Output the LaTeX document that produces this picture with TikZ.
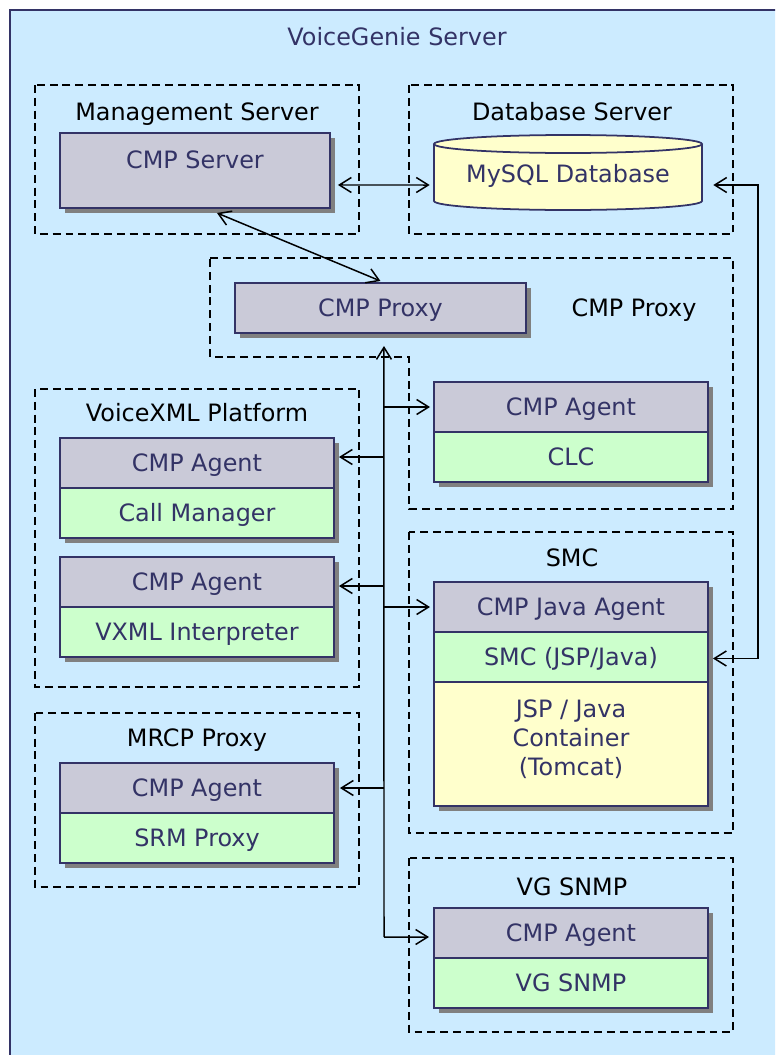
\documentclass[tikz,border=0pt]{standalone}
\usepackage{fontspec}
\setmainfont{DejaVu Sans}
\usepackage{tikz}
\usetikzlibrary{calc,positioning,shadows,arrows.meta}
\definecolor{vgblue}{RGB}{204,235,255}
\definecolor{vgnavy}{RGB}{51,51,102}
\definecolor{vggray}{RGB}{202,202,216}
\definecolor{vggreen}{RGB}{204,255,204}
\definecolor{vgyellow}{RGB}{255,255,204}
\definecolor{vgshadow}{RGB}{128,128,128}
\tikzset{
  every node/.style={font=\fontsize{13.6}{16.5}\selectfont},
  boxtext/.style={text=vgnavy, text height=13.3pt, text depth=3.4pt, inner sep=0pt},
  grouplabel/.style={text=black, text height=13.3pt, text depth=3.4pt, inner sep=0pt},
  unit/.style={draw=vgnavy, line width=1pt, outer sep=0pt, inner sep=0pt,
    minimum width=5.48cm, minimum height=1cm, boxtext,
    drop shadow={shadow xshift=0.1cm, shadow yshift=-0.1cm, opacity=1, fill=vgshadow}},
  agent/.style={unit, fill=vggray},
  service/.style={unit, fill=vggreen},
  group/.style={draw=black, line width=0.7pt, dash pattern=on 4.5pt off 2.8pt},
  link/.style={draw=black, line width=0.85pt}
}
\begin{document}
\begin{tikzpicture}[x=0.02cm, y=-0.02cm, >={Straight Barb[length=2.4mm,width=3mm]}]
  \useasboundingbox (0,0) rectangle (775,1055);
  \clip (0,0) rectangle (775,1055);
  \draw[fill=vgblue, draw=vgnavy, line width=1pt] (10,10) rectangle (790,1070);
  \node[boxtext] (title) at (397,37) {VoiceGenie Server};

  % groups
  \draw[group] (35,85) rectangle (359,234);
  \node[grouplabel] (mgmt) at (197,112) {Management Server};
  \draw[group] (409,85) rectangle (733,234);
  \node[grouplabel] (dbsrv) at (572,112) {Database Server};
  \draw[group] (210,258) -- (733,258) -- (733,509) -- (409,509) -- (409,357) -- (210,357) -- cycle;
  \node[grouplabel] (proxygrp) at (634,308) {CMP Proxy};
  \draw[group] (35,389) rectangle (359,687);
  \node[grouplabel] (vxmlgrp) at (197,413) {VoiceXML Platform};
  \draw[group] (35,713) rectangle (359,887);
  \node[grouplabel] (mrcpgrp) at (197,738) {MRCP Proxy};
  \draw[group] (409,532) rectangle (733,833);
  \node[grouplabel] (smcgrp) at (572,558) {SMC};
  \draw[group] (409,858) rectangle (733,1032);
  \node[grouplabel] (snmpgrp) at (572,887) {VG SNMP};

  % servers
  \node[agent, minimum width=5.4cm, minimum height=1.5cm, anchor=north west] (cmpserver) at (60,133) {};
  \node[boxtext] (cmpserverlbl) at ([yshift=-0.54cm]cmpserver.north) {CMP Server};
  \filldraw[fill=vgyellow, draw=vgnavy, line width=1pt] (568,201) ellipse [x radius=134, y radius=9];
  \fill[vgyellow] (434,144) rectangle (702,201);
  \draw[vgnavy, line width=1pt] (434,144) -- (434,201) (702,144) -- (702,201);
  \filldraw[fill=vgyellow, draw=vgnavy, line width=1pt] (568,144) ellipse [x radius=134, y radius=9];
  \node[boxtext, minimum width=5.36cm, minimum height=1.5cm] (mysql) at (568,174) {MySQL Database};
  \node[agent, minimum width=5.82cm, anchor=north west] (cmpproxy) at (235,283) {CMP Proxy};

  % agents
  \node[agent, anchor=north west] (clcagent) at (434,382) {CMP Agent};
  \node[service, below=0pt of clcagent] (clc) {CLC};
  \node[agent, anchor=north west] (cmagent) at (60,438) {CMP Agent};
  \node[service, below=0pt of cmagent] (callmgr) {Call Manager};
  \node[agent, anchor=north west] (vxmlagent) at (60,557) {CMP Agent};
  \node[service, below=0pt of vxmlagent] (vxml) {VXML Interpreter};
  \node[agent, anchor=north west] (mrcpagent) at (60,763) {CMP Agent};
  \node[service, below=0pt of mrcpagent] (srm) {SRM Proxy};
  \node[agent, anchor=north west] (smcagent) at (434,582) {CMP Java Agent};
  \node[service, below=0pt of smcagent] (smcweb) {SMC (JSP/Java)};
  \node[unit, fill=vgyellow, minimum height=2.48cm, below=0pt of smcweb] (tomcat) {};
  \node[text=vgnavy, align=center, inner sep=0pt, anchor=north] (tomcatlbl) at ([yshift=-0.34cm]tomcat.north) {JSP / Java\\Container\\(Tomcat)};
  \node[agent, anchor=north west] (snmpagent) at (434,908) {CMP Agent};
  \node[service, below=0pt of snmpagent] (snmp) {VG SNMP};

  % links
  \coordinate (dbbend) at (758,185);
  \coordinate (busbot) at (384,937);
  \draw[link, <->] ($(cmpserver.east)+(8,14.5)$) -- ($(mysql.west)+(-4,11)$);
  \draw[link, <->] ($(mysql.east)+(11,11)$) -- (dbbend) |- ($(smcweb.east)+(5,1.5)$);
  \draw[link, <->] ($(cmpserver.south)+(22,5)$) -- ($(cmpproxy.north)+(0,-2)$);
  \draw[link, ->] (busbot) -- ($(cmpproxy.south)+(3.5,13)$);
  \draw[link, ->] (busbot) -- ($(snmpagent.west)+(-5,4)$);
  \draw[link, ->] (clcagent.west -| busbot) -- ($(clcagent.west)+(-4,0)$);
  \draw[link, ->] ($(cmagent.east -| busbot)+(0,-6)$) -- ($(cmagent.east)+(5,-6)$);
  \draw[link, ->] ($(vxmlagent.east -| busbot)+(0,4)$) -- ($(vxmlagent.east)+(5,4)$);
  \draw[link, ->] (mrcpagent.east -| busbot) -- ($(mrcpagent.east)+(6,0)$);
  \draw[link, ->] (smcagent.west -| busbot) -- ($(smcagent.west)+(-4,0)$);
\end{tikzpicture}
\end{document}
